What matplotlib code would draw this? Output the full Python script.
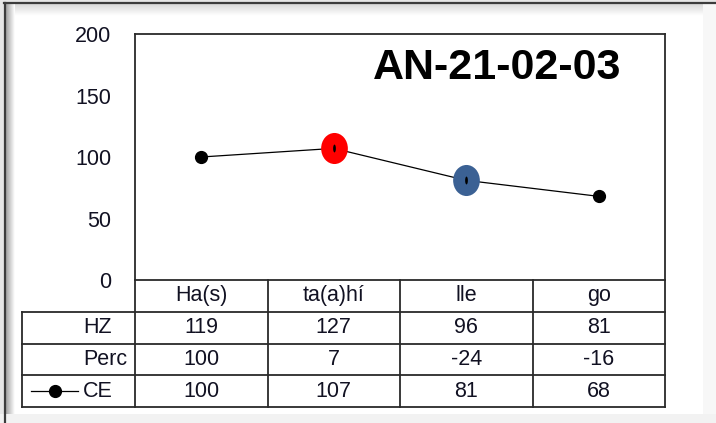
import numpy as np
import matplotlib
matplotlib.use('Agg')
import matplotlib.pyplot as plt
from matplotlib.path import Path
from matplotlib.transforms import Affine2D

plt.rcParams['font.family'] = ['Liberation Sans', 'DejaVu Sans']

# --- data ---
title = 'AN-21-02-03'
categories = ['Ha(s)', 'ta(a)hí', 'lle', 'go']
row_labels = ['HZ', 'Perc', 'CE']
hz = [119, 127, 96, 81]
perc = [100, 7, -24, -16]
ce = [100, 107, 81, 68]
highlight = {1: '#ff0000', 2: '#3b6194'}   # index -> colour of the big markers
y_ticks = [0, 50, 100, 150, 200]

W, H = 716, 423
fig = plt.figure(figsize=(W / 100, H / 100), dpi=100, facecolor='white')

def px_rect(x0, y0, x1, y1):
    # pixel box (top-left origin) -> figure fraction rect
    return [x0 / W, 1 - y1 / H, (x1 - x0) / W, (y1 - y0) / H]

# --- background frame with soft shadow ---
bg = fig.add_axes([0, 0, 1, 1], zorder=-10)
bg.axis('off')
bg.add_patch(plt.Rectangle((0, 0), 4, H, color='#e6e6e6', lw=0))
bg.add_patch(plt.Rectangle((0, 0), W, 3, color='#e6e6e6', lw=0))
grad_h = np.linspace(0.6, 1.0, 30).reshape(1, -1)
bg.imshow(grad_h, cmap='gray', vmin=0, vmax=1, extent=(5, 15, H, 4), aspect='auto', zorder=1)
grad_v = np.linspace(0.85, 1.0, 30).reshape(-1, 1)
bg.imshow(grad_v, cmap='gray', vmin=0, vmax=1, extent=(15, W, 16, 4), aspect='auto', zorder=1)
bg.add_patch(plt.Rectangle((0, 414), W, 9, color='#f2f2f2', lw=0, zorder=2))
bg.add_patch(plt.Rectangle((703, 4), 13, 410, color='#f7f7f7', lw=0, zorder=2))
bg.plot([4, W], [3.5, 3.5], color='#3c3c3c', lw=1.6, zorder=3)
bg.plot([4.5, 4.5], [3.5, H], color='#3c3c3c', lw=1.6, zorder=3)
bg.set_xlim(0, W)
bg.set_ylim(H, 0)

fs = 15.5
txt_col = '#111122'

# --- main plot ---
ax = fig.add_axes(px_rect(135, 34, 665, 280))
x = np.arange(len(categories))
ax.plot(x, ce, color='black', lw=0.9, marker='o', markersize=8.5,
        markerfacecolor='black', markeredgecolor='black', zorder=3)

ellipse = Path.unit_circle().transformed(Affine2D().scale(0.86, 1.0))
dash = Path.unit_circle().transformed(Affine2D().scale(0.35, 1.0))
for i, col in highlight.items():
    ax.scatter([x[i]], [ce[i]], marker=ellipse, s=500, color=col, lw=0, zorder=4)
    ax.scatter([x[i]], [ce[i]], marker=dash, s=32, color='black', lw=0, zorder=5)

ax.set_xlim(-0.5, len(categories) - 0.5)
ax.set_ylim(0, 200)
ax.set_yticks(y_ticks)
ax.set_yticklabels([str(t) for t in y_ticks], fontsize=fs, color=txt_col)
ax.tick_params(axis='y', length=0, pad=17)
ax.set_xticks([])
for s in ax.spines.values():
    s.set_color('#2a2a2a')
    s.set_linewidth(1.3)
ax.text(0.683, 0.862, title, transform=ax.transAxes, ha='center', va='center',
        fontsize=31, fontweight='bold', color='black')

# --- data table underneath ---
tb = fig.add_axes(px_rect(22, 280, 665, 407))
left = -0.5 - 113 / 132.5
tb.set_xlim(left, len(categories) - 0.5)
tb.set_ylim(4, 0)
tb.axis('off')
lc, lw = '#2a2a2a', 1.3
for r in range(1, 5):
    tb.plot([left, 3.5], [r, r], color=lc, lw=lw, clip_on=False)
for c in np.arange(-0.5, 4.0, 1.0):
    tb.plot([c, c], [0, 4], color=lc, lw=lw, clip_on=False)
tb.plot([left, left], [1, 4], color=lc, lw=lw, clip_on=False)

for i, cat in enumerate(categories):
    tb.text(i, 0.5, cat, ha='center', va='center', fontsize=fs, color=txt_col)
rows = [hz, perc, ce]
for r, (lab, vals) in enumerate(zip(row_labels, rows), start=1):
    tb.text(left + 61 / 132.5, r + 0.5, lab, ha='left', va='center', fontsize=fs, color=txt_col)
    for i, v in enumerate(vals):
        tb.text(i, r + 0.5, str(v), ha='center', va='center', fontsize=fs, color=txt_col)

# legend key for the CE series
kx0, kx1 = left + 9 / 132.5, left + 56 / 132.5
tb.plot([kx0, kx1], [3.5, 3.5], color='black', lw=0.9)
tb.plot([(kx0 + kx1) / 2], [3.5], marker='o', markersize=8.5, color='black')

fig.savefig('out.png', dpi=100, facecolor='white')
